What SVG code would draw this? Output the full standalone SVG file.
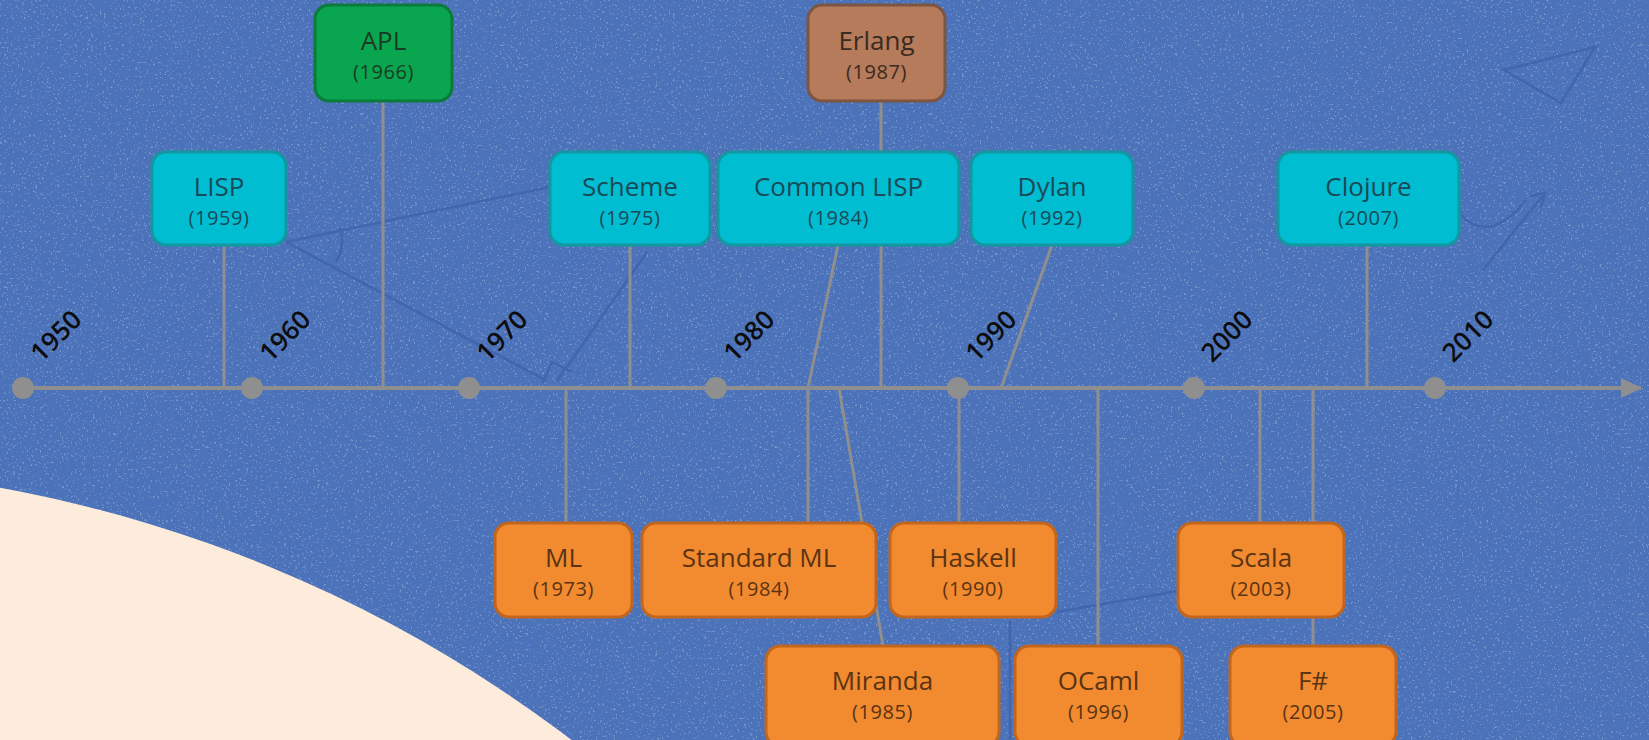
<svg xmlns="http://www.w3.org/2000/svg" width="1649" height="740" viewBox="0 0 1649 740">
<defs>
<style>
.box rect{stroke-width:3}
.cy rect{fill:#00bdd2;stroke:#12989f}
.cy text{fill:#1a4a57}
.gr rect{fill:#0aa64f;stroke:#0b7a3a}
.gr text{fill:#1b3b26}
.br rect{fill:#b57b5b;stroke:#7e5541}
.br text{fill:#3a2a20}
.or rect{fill:#f28a2f;stroke:#c2661d}
.or text{fill:#5a3413}
.nm{font-family:"Open Sans","Liberation Sans",sans-serif;font-size:26px;text-anchor:middle}
.yr{font-family:"Open Sans","Liberation Sans",sans-serif;font-size:20px;letter-spacing:0.6px;text-anchor:middle}
.conn line{stroke:#8f8f8f;stroke-width:3}
.tick{fill:#8f8f8f}
.year{font-family:"Open Sans","Liberation Sans",sans-serif;font-size:26px;font-weight:600;fill:#0d0d0d;text-anchor:middle}
.deco{stroke:#4166ad;stroke-width:2.5;fill:none}
</style>
<filter id="speck" x="0" y="0" width="100%" height="100%">
<feTurbulence type="fractalNoise" baseFrequency="0.45" numOctaves="2" seed="7" result="n"/>
<feColorMatrix in="n" type="matrix" values="0 0 0 0 0.22  0 0 0 0 0.36  0 0 0 0 0.64  16 0 0 0 -10.2"/>
</filter>
<marker id="arr" markerWidth="22" markerHeight="22" refX="20" refY="11" orient="auto" markerUnits="userSpaceOnUse">
<path d="M0,1 L21,11 L0,21 Z" fill="#8f8f8f"/>
</marker>
</defs>
<rect width="1649" height="740" fill="#4c72b9"/>
<rect width="1649" height="740" filter="url(#speck)" opacity="0.7"/>
<circle cx="-240" cy="1805" r="1339" fill="#fdebdc"/>
<g id="decor">
<path class="deco" d="M286,242 L550,187 M286,242 L547,381 M557,381 L647,252 M543,383 L552,362 L572,372 M340,228 Q346,246 336,262"/>
<path class="deco" d="M1057,612 L1178,591 M1010,620 L1010,740"/>
<path class="deco" d="M1504,70 L1595,47 L1561,103 Z M1461,215 Q1490,245 1526,200 M1483,270 L1545,193 M1530,196 L1545,193 L1541,208"/>
</g>
<g id="connectors" class="conn">
<line x1="23" y1="388" x2="1641" y2="388" style="stroke-width:4" marker-end="url(#arr)"/>
<line x1="224" y1="245" x2="224" y2="388"/>
<line x1="383" y1="101" x2="383" y2="388"/>
<line x1="630" y1="245" x2="630" y2="388"/>
<line x1="838" y1="245" x2="808" y2="388"/>
<line x1="881" y1="101" x2="881" y2="388"/>
<line x1="1052" y1="245" x2="1001" y2="388"/>
<line x1="1367" y1="245" x2="1367" y2="388"/>
<line x1="566" y1="388" x2="566" y2="523"/>
<line x1="808" y1="388" x2="808" y2="523"/>
<line x1="839" y1="388" x2="883" y2="646"/>
<line x1="959" y1="388" x2="959" y2="523"/>
<line x1="1098" y1="388" x2="1098" y2="646"/>
<line x1="1260" y1="388" x2="1260" y2="523"/>
<line x1="1313" y1="388" x2="1313" y2="646"/>
</g>
<g id="axis-ticks">
<circle class="tick" cx="23" cy="388" r="11"/>
<circle class="tick" cx="252" cy="388" r="11"/>
<circle class="tick" cx="469" cy="388" r="11"/>
<circle class="tick" cx="716" cy="388" r="11"/>
<circle class="tick" cx="958" cy="388" r="11"/>
<circle class="tick" cx="1194" cy="388" r="11"/>
<circle class="tick" cx="1435" cy="388" r="11"/>
<text class="year" transform="translate(56,336) rotate(-45)" dy="9">1950</text>
<text class="year" transform="translate(285,336) rotate(-45)" dy="9">1960</text>
<text class="year" transform="translate(502,336) rotate(-45)" dy="9">1970</text>
<text class="year" transform="translate(749,336) rotate(-45)" dy="9">1980</text>
<text class="year" transform="translate(991,336) rotate(-45)" dy="9">1990</text>
<text class="year" transform="translate(1227,336) rotate(-45)" dy="9">2000</text>
<text class="year" transform="translate(1468,336) rotate(-45)" dy="9">2010</text>
</g>
<g id="n-apl" class="box gr"><rect x="315" y="5" width="137" height="96" rx="14"/><text class="nm" x="383.5" y="50">APL</text><text class="yr" x="383.5" y="79">(1966)</text></g>
<g id="n-erlang" class="box br"><rect x="808" y="5" width="137" height="96" rx="14"/><text class="nm" x="876.5" y="50">Erlang</text><text class="yr" x="876.5" y="79">(1987)</text></g>
<g id="n-lisp" class="box cy"><rect x="152" y="152" width="134" height="93" rx="14"/><text class="nm" x="219" y="196">LISP</text><text class="yr" x="219" y="225">(1959)</text></g>
<g id="n-scheme" class="box cy"><rect x="550" y="152" width="160" height="93" rx="14"/><text class="nm" x="630" y="196">Scheme</text><text class="yr" x="630" y="225">(1975)</text></g>
<g id="n-commonlisp" class="box cy"><rect x="718" y="152" width="241" height="93" rx="14"/><text class="nm" x="838.5" y="196">Common LISP</text><text class="yr" x="838.5" y="225">(1984)</text></g>
<g id="n-dylan" class="box cy"><rect x="971" y="152" width="162" height="93" rx="14"/><text class="nm" x="1052" y="196">Dylan</text><text class="yr" x="1052" y="225">(1992)</text></g>
<g id="n-clojure" class="box cy"><rect x="1278" y="152" width="181" height="93" rx="14"/><text class="nm" x="1368.5" y="196">Clojure</text><text class="yr" x="1368.5" y="225">(2007)</text></g>
<g id="n-ml" class="box or"><rect x="495" y="523" width="137" height="94" rx="14"/><text class="nm" x="563.5" y="567">ML</text><text class="yr" x="563.5" y="596">(1973)</text></g>
<g id="n-standardml" class="box or"><rect x="642" y="523" width="234" height="94" rx="14"/><text class="nm" x="759" y="567">Standard ML</text><text class="yr" x="759" y="596">(1984)</text></g>
<g id="n-haskell" class="box or"><rect x="890" y="523" width="166" height="94" rx="14"/><text class="nm" x="973" y="567">Haskell</text><text class="yr" x="973" y="596">(1990)</text></g>
<g id="n-scala" class="box or"><rect x="1178" y="523" width="166" height="94" rx="14"/><text class="nm" x="1261" y="567">Scala</text><text class="yr" x="1261" y="596">(2003)</text></g>
<g id="n-miranda" class="box or"><rect x="766" y="646" width="233" height="100" rx="14"/><text class="nm" x="882.5" y="690">Miranda</text><text class="yr" x="882.5" y="719">(1985)</text></g>
<g id="n-ocaml" class="box or"><rect x="1015" y="646" width="167" height="100" rx="14"/><text class="nm" x="1098.5" y="690">OCaml</text><text class="yr" x="1098.5" y="719">(1996)</text></g>
<g id="n-fsharp" class="box or"><rect x="1230" y="646" width="166" height="100" rx="14"/><text class="nm" x="1313" y="690">F#</text><text class="yr" x="1313" y="719">(2005)</text></g>
</svg>
